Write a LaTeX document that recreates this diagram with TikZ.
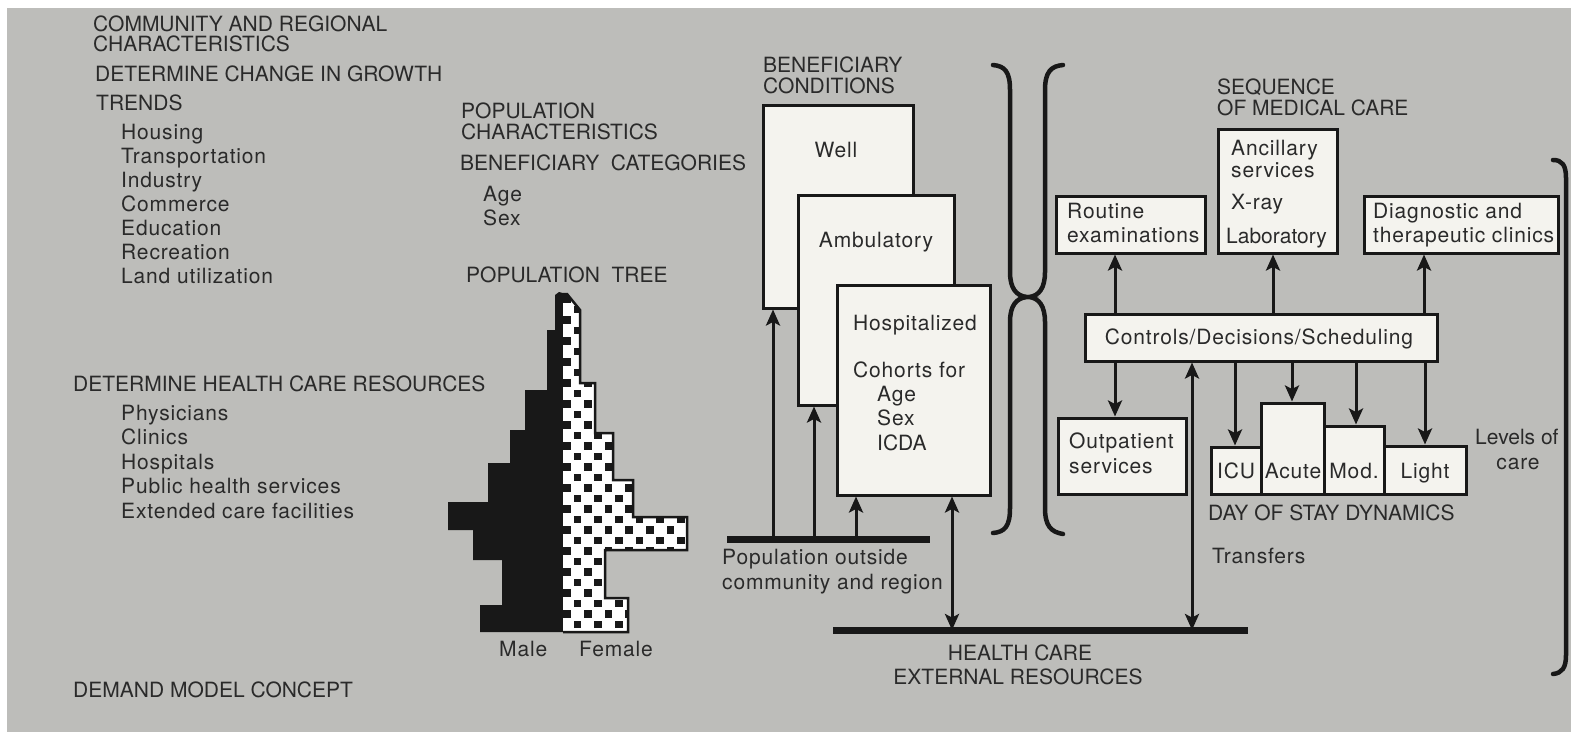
\documentclass[tikz,border=0pt]{standalone}
\usepackage{fontspec}
\setmainfont{TeX Gyre Heros}
\newfontfamily\spacedfont[LetterSpace=4]{TeX Gyre Heros}
\usetikzlibrary{arrows.meta}
\definecolor{bgc}{RGB}{189,189,186}
\definecolor{boxc}{RGB}{244,243,238}
\definecolor{textc}{RGB}{42,42,42}
\definecolor{linec}{RGB}{24,24,24}
\newcommand\dfont{\fontsize{21}{24}\selectfont}
\newcommand\lfont{\spacedfont\fontsize{21}{24}\selectfont}
\tikzset{
  txt/.style={anchor=base west, inner sep=0pt, text=textc, font=\dfont},
  ltxt/.style={anchor=base west, inner sep=0pt, text=textc, font=\lfont},
  ctxt/.style={anchor=base, inner sep=0pt, text=textc, font=\lfont},
  box/.style={draw=linec, fill=boxc, line width=3pt, inner sep=0pt, rectangle},
  arr/.style={draw=linec, line width=3pt, -{Stealth[length=16pt,width=14pt,inset=3.5pt]}},
  arrboth/.style={draw=linec, line width=3pt, {Stealth[length=16pt,width=14pt,inset=3.5pt]}-{Stealth[length=16pt,width=14pt,inset=3.5pt]}},
  bar/.style={draw=linec, line width=7pt},
  brace/.style={draw=linec, line width=4.5pt, line cap=round},
}
\begin{document}
\begin{tikzpicture}[x=1pt,y=-1pt]
\useasboundingbox (0,0) rectangle (1571,732);
\fill[white] (0,0) rectangle (1571,732);
\fill[bgc] (7,8) rectangle (1571,732);

% ---------- left column ----------
\node[txt] (comm1) at (93,31) {COMMUNITY AND REGIONAL};
\node[txt] (comm2) at (93,51) {CHARACTERISTICS};
\node[txt] (growth) at (95,81) {DETERMINE CHANGE IN GROWTH};
\node[txt] (trends) at (96,110) {TRENDS};
\foreach \t [count=\k] in {Housing,Transportation,Industry,Commerce,Education,Recreation,Land utilization}
  \node[ltxt] (trend\k) at (121,{115+24*\k}) {\t};

\node[txt] (hcres) at (73,391) {DETERMINE HEALTH CARE RESOURCES};
\foreach \t [count=\k] in {Physicians,Clinics,Hospitals,Public health services,Extended care facilities}
  \node[ltxt] (res\k) at (121,{395.5+24.5*\k}) {\t};

\node[txt] (demand) at (73,697) {DEMAND MODEL CONCEPT};

% ---------- population characteristics ----------
\node[txt] (popc1) at (461,118) {POPULATION};
\node[txt] (popc2) at (461,139) {CHARACTERISTICS};
\node[txt] (bcat) at (460,170) {BENEFICIARY\ \ CATEGORIES};
\node[ltxt] (age) at (483,201) {Age};
\node[ltxt] (sex) at (483,225) {Sex};
\node[txt] (ptree) at (466,282) {POPULATION\ \ TREE};

% ---------- population tree ----------
\fill[linec] (563,632) -- (480,632) -- (480,605) -- (502,605) -- (502,560) -- (473,560)
  -- (473,530) -- (448,530) -- (448,502) -- (488,502) -- (488,463) -- (510,463)
  -- (510,430) -- (525,430) -- (525,390) -- (547,390) -- (547,330) -- (555,330)
  -- (555,295) -- (559,292) -- (563,293) -- cycle;
\begin{scope}
  \path[clip] (563,294) -- (567,294) -- (580,310) -- (580,383) -- (595,383) -- (595,433)
    -- (613,433) -- (613,480) -- (633,480) -- (633,517) -- (687,517) -- (687,550)
    -- (605,550) -- (605,598) -- (628,598) -- (628,632) -- (563,632) -- cycle;
  \fill[white] (560,290) rectangle (690,635);
  \foreach \j in {0,...,32} {
    \pgfmathsetmacro\xo{542.6+mod(\j,2)*10.35}
    \foreach \i in {0,...,7}
      \fill[linec] (\xo+\i*20.7, 295+\j*10.5) rectangle ++(7.5,7.5);
  }
\end{scope}
\draw[linec, line width=2.5pt, line join=miter] (563,294) -- (567,294) -- (580,310) -- (580,383) -- (595,383) -- (595,433)
    -- (613,433) -- (613,480) -- (633,480) -- (633,517) -- (687,517) -- (687,550)
    -- (605,550) -- (605,598) -- (628,598) -- (628,632) -- (563,632);
\node[ltxt] (male) at (499,656) {Male};
\node[ltxt] (female) at (579,656) {Female};

% ---------- beneficiary conditions ----------
\node[txt] (benef1) at (763,72) {BENEFICIARY};
\node[txt] (benef2) at (763,93) {CONDITIONS};
\node[box, minimum width=150pt, minimum height=203pt] (well) at (838,206.5) {};
\node[box, minimum width=156pt, minimum height=210pt] (amb) at (876,300) {};
\node[box, minimum width=153pt, minimum height=210pt] (hosp) at (913.5,390) {};
\node[ctxt] (wellt) at (836,157) {Well};
\node[ctxt] (ambt) at (876,247) {Ambulatory};
\node[ltxt] (hospt) at (853,330) {Hospitalized};
\node[ltxt] (coh) at (853,377) {Cohorts for};
\node[ltxt] (cage) at (877,401) {Age};
\node[ltxt] (csex) at (877,425) {Sex};
\node[txt] (cicda) at (877,450) {ICDA};

% population bar
\coordinate (popL) at (727,539);
\coordinate (popR) at (930,539);
\draw[bar] (popL) -- (popR);
\coordinate (p1) at (773,539);
\coordinate (p2) at (814,539);
\coordinate (p3) at (856,539);
\draw[arr] (p1) -- (p1 |- well.south);
\draw[arr] (p2) -- (p2 |- amb.south);
\draw[arr] (p3) -- (p3 |- hosp.south);
\node[ltxt] (pop1) at (722,564) {Population outside};
\node[ltxt] (pop2) at (722,589) {community and region};

% health care bar
\coordinate (hcL) at (833,630);
\coordinate (hcR) at (1248,630);
\draw[bar] (hcL) -- (hcR);
\coordinate (h1) at (952,630);
\draw[arrboth] (h1) -- (h1 |- hosp.south);
\node[anchor=base, inner sep=0pt, text=textc, font=\dfont] (hc1) at (1020,660) {HEALTH CARE};
\node[anchor=base, inner sep=0pt, text=textc, font=\dfont] (hc2) at (1018,684) {EXTERNAL RESOURCES};

% braces
\draw[brace] (993,65) .. controls (1005,66) and (1010,72) .. (1010,90) -- (1010,272)
  .. controls (1010,288) and (1016,296) .. (1027,297)
  .. controls (1016,298) and (1010,306) .. (1010,322) -- (1010,508)
  .. controls (1010,526) and (1005,532) .. (993,533);
\draw[brace] (1063,65) .. controls (1051,66) and (1045,72) .. (1045,90) -- (1045,272)
  .. controls (1045,288) and (1039,296) .. (1029,297)
  .. controls (1039,298) and (1045,306) .. (1045,322) -- (1045,508)
  .. controls (1045,526) and (1051,532) .. (1063,534);
\draw[brace] (1553,160) .. controls (1562,160) and (1566,165) .. (1566,178) -- (1566,655)
  .. controls (1566,668) and (1562,673) .. (1553,674);

% ---------- sequence of medical care ----------
\node[txt] (seq1) at (1217,94) {SEQUENCE};
\node[txt] (seq2) at (1217,115) {OF MEDICAL CARE};
\node[box, minimum width=119pt, minimum height=124pt] (anc) at (1277.5,191) {};
\node[ltxt] (anc1) at (1231,155) {Ancillary};
\node[ltxt] (anc2) at (1231,177) {services};
\node[ltxt] (anc3) at (1231,209) {X-ray};
\node[txt] (anc4) at (1226,243) {Laboratory};
\node[box, minimum width=149pt, minimum height=57pt] (rout) at (1130.5,224.5) {};
\node[ltxt] (rout1) at (1067,218) {Routine};
\node[ltxt] (rout2) at (1067,242) {examinations};
\node[box, minimum width=194pt, minimum height=57pt] (diag) at (1461,224.5) {};
\node[ltxt] (diag1) at (1373,218) {Diagnostic and};
\node[ltxt] (diag2) at (1373,242) {therapeutic clinics};
\node[box, minimum width=352pt, minimum height=47pt] (ctrl) at (1261,337.5) {};
\node[ctxt] (ctrlt) at (1259,344) {Controls/Decisions/Scheduling};

\node[box, minimum width=128pt, minimum height=76pt] (outp) at (1122,456) {};
\node[ltxt] (outp1) at (1069,448) {Outpatient};
\node[ltxt] (outp2) at (1069,473) {services};

\node[box, minimum width=50pt, minimum height=47pt] (icu) at (1236,470.5) {};
\node[box, minimum width=63pt, minimum height=91pt] (acute) at (1292.5,448.5) {};
\node[box, minimum width=60pt, minimum height=68pt] (mod) at (1354,460) {};
\node[box, minimum width=82pt, minimum height=48pt] (light) at (1425,470) {};
\node[ctxt] (icut) at (1236,478) {ICU};
\node[ctxt] (acutet) at (1293,478) {Acute};
\node[ctxt] (modt) at (1354,478) {Mod.};
\node[ctxt] (lightt) at (1425,478) {Light};
\node[txt] (dos) at (1208,520) {DAY OF STAY DYNAMICS};
\node[ltxt] (trans) at (1212,563) {Transfers};
\node[txt] (lev1) at (1475,444) {Levels of};
\node[ctxt] (lev2) at (1518,469) {care};

% arrows around controls
\coordinate (xr) at (1115,0);
\coordinate (xa) at (1273,0);
\coordinate (xd) at (1424,0);
\coordinate (xi) at (1235,0);
\coordinate (xc) at (1292,0);
\coordinate (xm) at (1356,0);
\coordinate (xl) at (1425,0);
\draw[arr] (ctrl.north -| xr) -- (rout.south -| xr);
\draw[arr] (ctrl.north -| xa) -- (anc.south -| xa);
\draw[arr] (ctrl.north -| xd) -- (diag.south -| xd);
\draw[arr] (ctrl.south -| xr) -- (outp.north -| xr);
\draw[arr] (ctrl.south -| xi) -- (icu.north -| xi);
\draw[arr] (ctrl.south -| xc) -- (acute.north -| xc);
\draw[arr] (ctrl.south -| xm) -- (mod.north -| xm);
\draw[arr] (ctrl.south -| xl) -- (light.north -| xl);
\coordinate (t1) at (1192,630);
\draw[arrboth] (t1) -- (t1 |- ctrl.south);
\end{tikzpicture}
\end{document}
